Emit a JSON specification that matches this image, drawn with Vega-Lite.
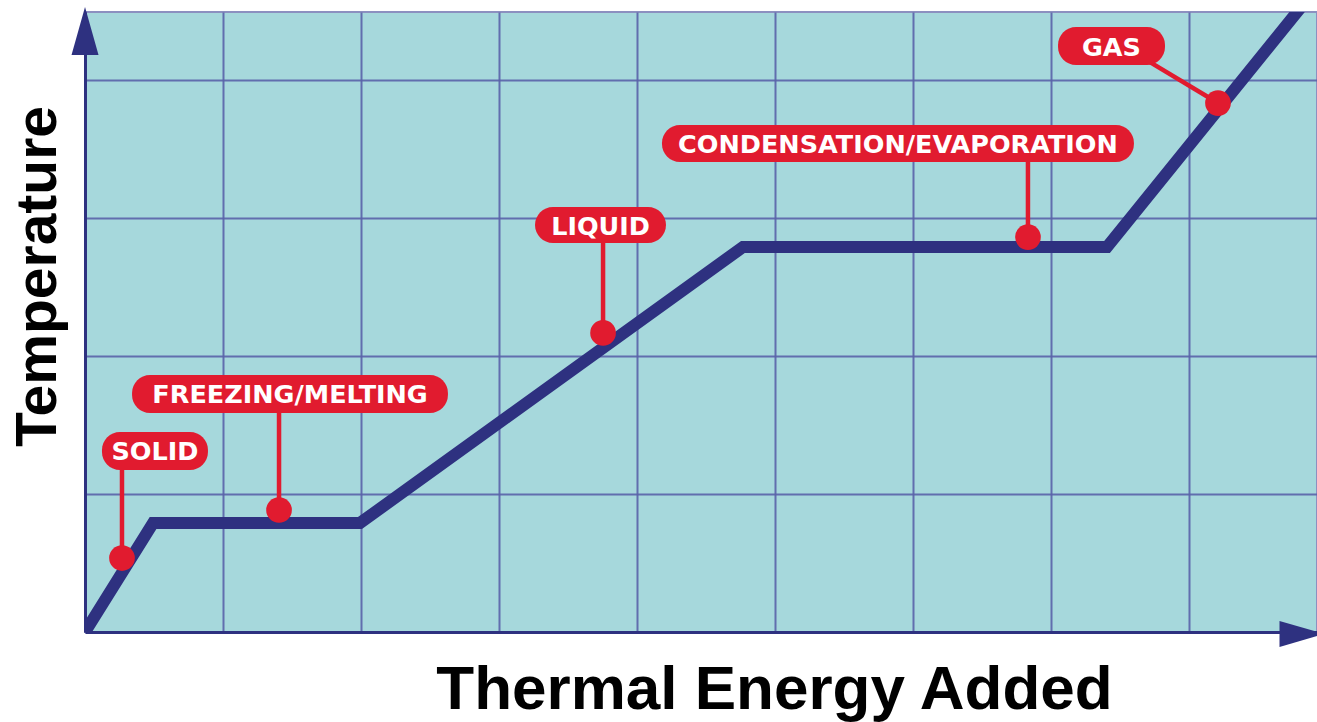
{
  "$schema": "https://vega.github.io/schema/vega-lite/v6.json",
  "width": 1232,
  "height": 620,
  "autosize": {"type": "none"},
  "padding": {"left": 85, "top": 12, "right": 0, "bottom": 90},
  "background": "white",
  "config": {"view": {"fill": "#a6d8dc", "stroke": "#8c90c0", "strokeWidth": 2}},
  "datasets": {
    "curve": [
      {"energy": 0, "temp": 0},
      {"energy": 0.493, "temp": 0.79},
      {"energy": 1.993, "temp": 0.79},
      {"energy": 4.768, "temp": 2.79},
      {"energy": 7.406, "temp": 2.79},
      {"energy": 8.87, "temp": 4.6}
    ],
    "labels": [
      {"label": "SOLID", "x": 0.268, "y": 0.536, "sx": 0.268, "sy": 1.174, "bx1": 0.123, "bx2": 0.891, "by1": 1.174, "by2": 1.449, "tx": 0.507, "ty": 1.312},
      {"label": "FREEZING/MELTING", "x": 1.406, "y": 0.884, "sx": 1.406, "sy": 1.587, "bx1": 0.341, "bx2": 2.63, "by1": 1.587, "by2": 1.862, "tx": 1.486, "ty": 1.725},
      {"label": "LIQUID", "x": 3.754, "y": 2.167, "sx": 3.754, "sy": 2.819, "bx1": 3.261, "bx2": 4.21, "by1": 2.819, "by2": 3.08, "tx": 3.736, "ty": 2.949},
      {"label": "CONDENSATION/EVAPORATION", "x": 6.833, "y": 2.862, "sx": 6.833, "sy": 3.406, "bx1": 4.181, "bx2": 7.601, "by1": 3.406, "by2": 3.674, "tx": 5.891, "ty": 3.54},
      {"label": "GAS", "x": 8.21, "y": 3.833, "sx": 7.717, "sy": 4.13, "bx1": 7.051, "bx2": 7.826, "by1": 4.109, "by2": 4.384, "tx": 7.438, "ty": 4.246}
    ],
    "arrowUp": [{"x": 0, "y": 4.355}],
    "arrowRight": [{"x": 8.819, "y": -0.014}]
  },
  "layer": [
    {
      "data": {"name": "curve"},
      "mark": {"type": "line", "color": "#2e3180", "strokeWidth": 12, "strokeJoin": "miter", "clip": true},
      "encoding": {
        "x": {
          "field": "energy", "type": "quantitative",
          "scale": {"domain": [0, 8.9275], "nice": false, "zero": false},
          "axis": {
            "values": [0, 1, 2, 3, 4, 5, 6, 7, 8],
            "grid": true, "gridColor": "#5a63a8", "gridWidth": 2, "gridOpacity": 0.9,
            "labels": false, "ticks": false,
            "domainColor": "#2e3180", "domainWidth": 3,
            "title": "Thermal Energy Added",
            "titleFont": "Liberation Sans", "titleFontSize": 62, "titleFontWeight": "bold", "titleColor": "#000000",
            "titleX": 689, "titleY": 76, "titleAlign": "center", "titleBaseline": "alphabetic"
          }
        },
        "y": {
          "field": "temp", "type": "quantitative",
          "scale": {"domain": [0, 4.4928], "nice": false, "zero": false},
          "axis": {
            "values": [0, 1, 2, 3, 4],
            "grid": true, "gridColor": "#5a63a8", "gridWidth": 2, "gridOpacity": 0.9,
            "labels": false, "ticks": false,
            "domainColor": "#2e3180", "domainWidth": 3,
            "title": "Temperature",
            "titleFont": "Liberation Sans", "titleFontSize": 57, "titleFontWeight": "bold", "titleColor": "#000000",
            "titleX": -47, "titleY": 264, "titleAngle": -90, "titleAlign": "center", "titleBaseline": "middle"
          }
        }
      }
    },
    {
      "data": {"name": "labels"},
      "mark": {"type": "rule", "color": "#e11b2f", "strokeWidth": 4.5},
      "encoding": {
        "x": {"field": "sx", "type": "quantitative"},
        "y": {"field": "sy", "type": "quantitative"},
        "x2": {"field": "x"},
        "y2": {"field": "y"}
      }
    },
    {
      "data": {"name": "labels"},
      "mark": {"type": "point", "shape": "circle", "filled": true, "color": "#e11b2f", "opacity": 1, "size": 660},
      "encoding": {
        "x": {"field": "x", "type": "quantitative"},
        "y": {"field": "y", "type": "quantitative"}
      }
    },
    {
      "data": {"name": "labels"},
      "mark": {"type": "rect", "color": "#e11b2f", "cornerRadius": 18},
      "encoding": {
        "x": {"field": "bx1", "type": "quantitative"},
        "x2": {"field": "bx2"},
        "y": {"field": "by1", "type": "quantitative"},
        "y2": {"field": "by2"}
      }
    },
    {
      "data": {"name": "labels"},
      "mark": {"type": "text", "color": "white", "font": "DejaVu Sans", "fontWeight": "bold", "fontSize": 25.5, "align": "center", "baseline": "middle", "dy": 1.5},
      "encoding": {
        "x": {"field": "tx", "type": "quantitative"},
        "y": {"field": "ty", "type": "quantitative"},
        "text": {"field": "label"}
      }
    },
    {
      "data": {"name": "arrowUp"},
      "mark": {"type": "point", "shape": "M0,-1L0.5625,1L-0.5625,1Z", "filled": true, "color": "#2e3180", "opacity": 1, "size": 2304, "clip": false},
      "encoding": {
        "x": {"field": "x", "type": "quantitative"},
        "y": {"field": "y", "type": "quantitative"}
      }
    },
    {
      "data": {"name": "arrowRight"},
      "mark": {"type": "point", "shape": "M1,0L-1,-0.58L-1,0.58Z", "filled": true, "color": "#2e3180", "opacity": 1, "size": 2025, "clip": false},
      "encoding": {
        "x": {"field": "x", "type": "quantitative"},
        "y": {"field": "y", "type": "quantitative"}
      }
    }
  ]
}
